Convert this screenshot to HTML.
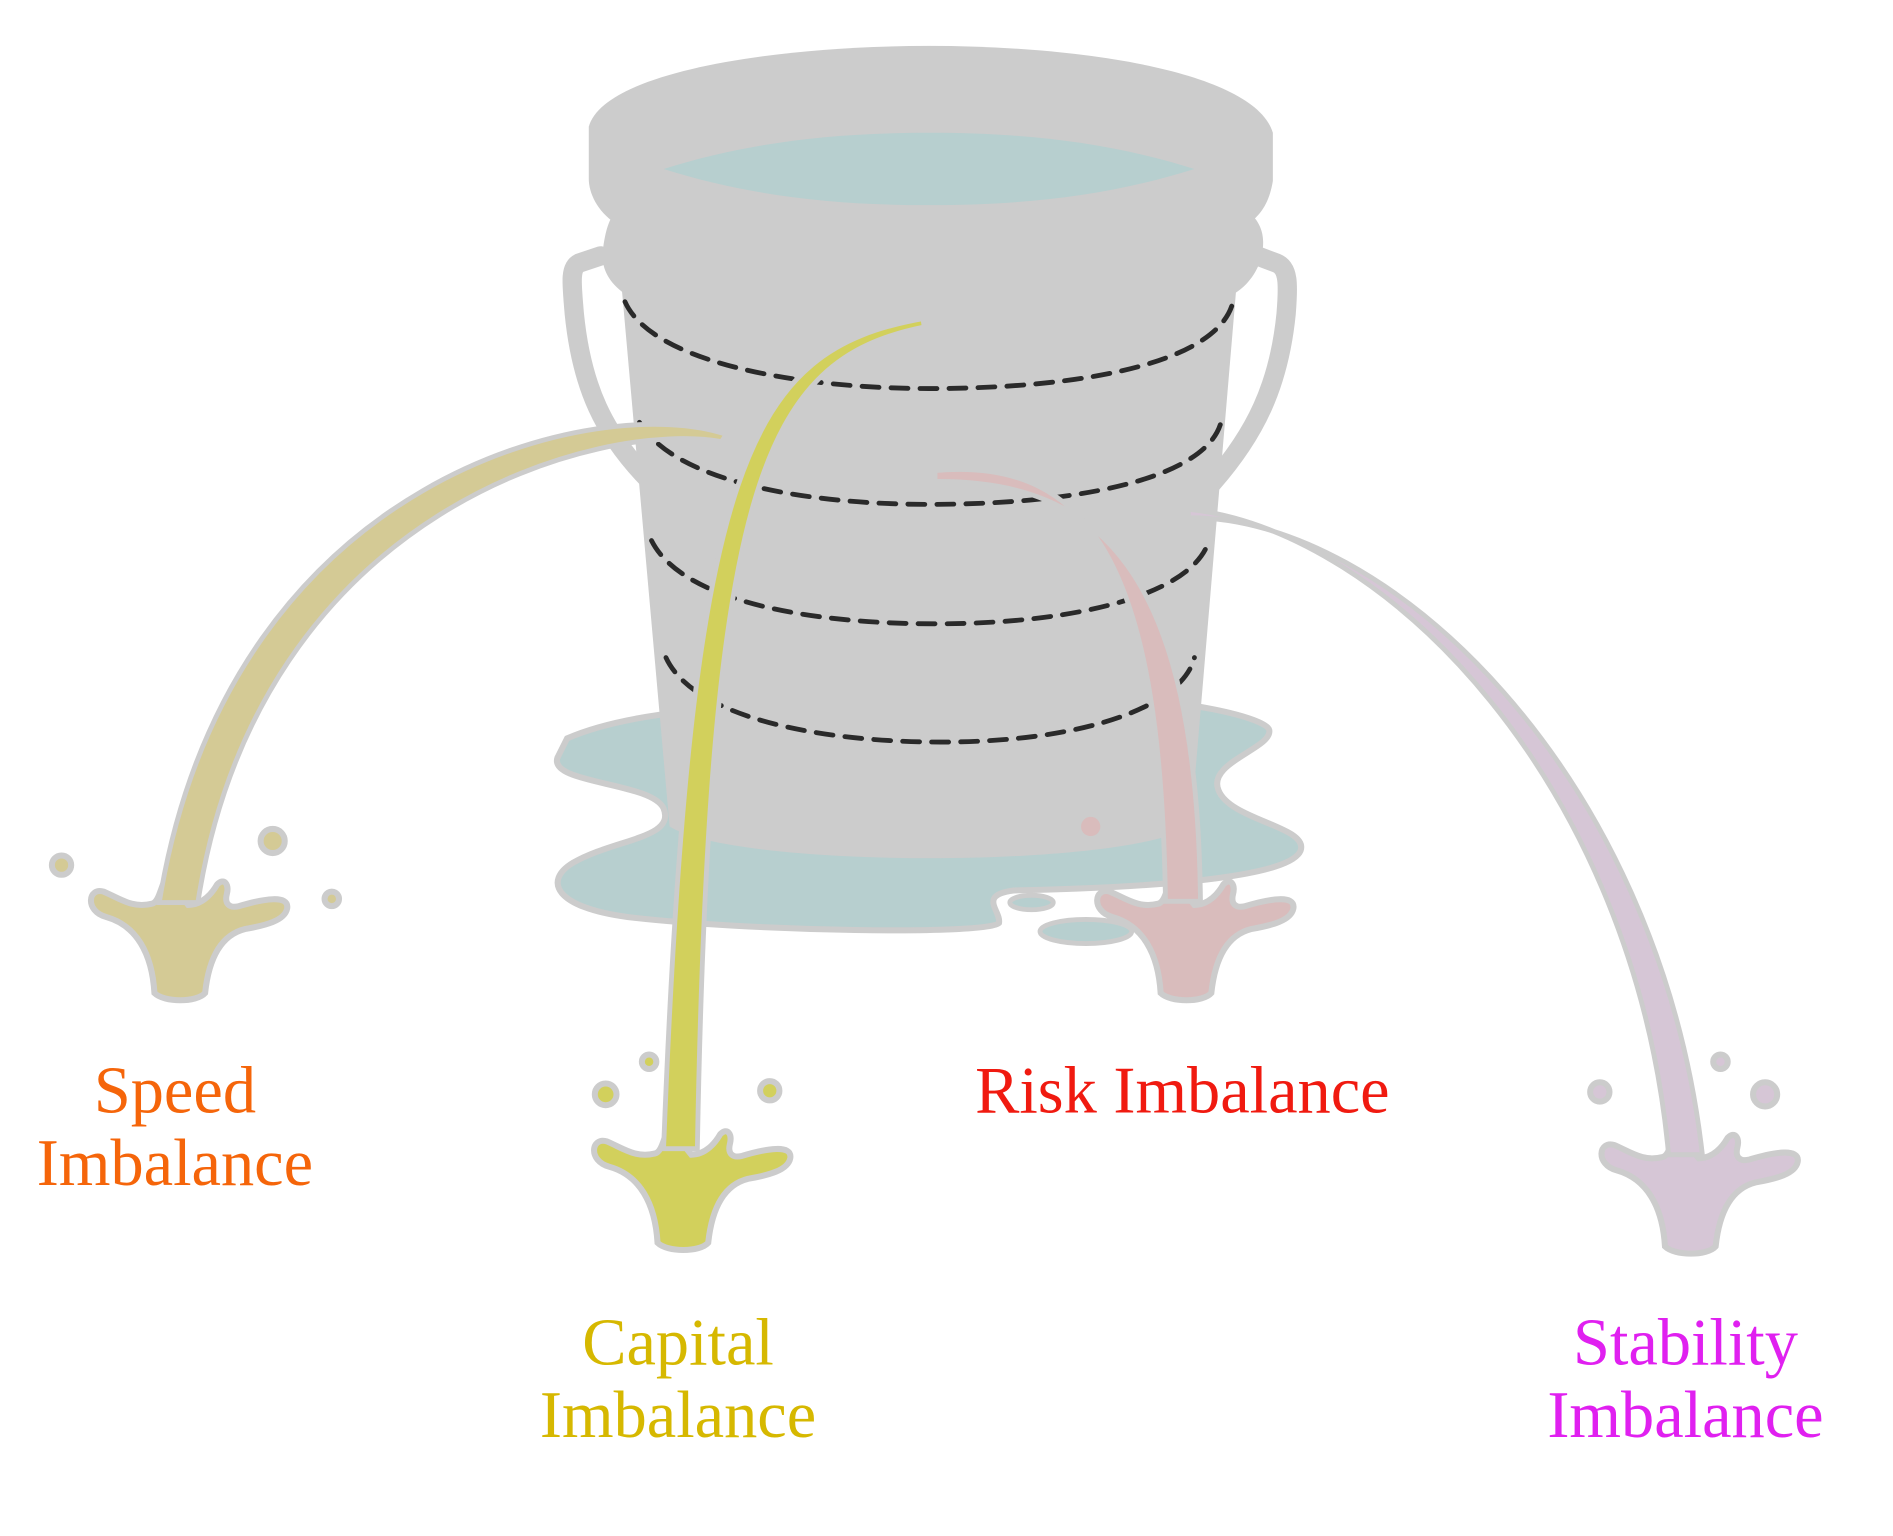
<!DOCTYPE html>
<html><head><meta charset="utf-8"><style>
html,body{margin:0;padding:0;background:#fff}
svg{display:block}
text{font-family:"Liberation Serif",serif;font-size:55px;text-anchor:middle}
</style></head><body>
<svg width="1893" height="1536" viewBox="0 0 1569 1273" xmlns="http://www.w3.org/2000/svg">
<defs>
<path id="spl" d="M -20,78 C -22,45 -35,22 -60,15 C -78,10 -75,-10 -62,-6 C -48,0 -38,8 -22,4 C -14,2 -14,-22 -6,-18 L 0,-5 L 8,5 C 20,5 28,-5 32,-12 C 38,-18 42,-12 40,-4 C 38,4 42,8 50,6 C 70,0 92,-4 90,8 C 88,18 72,22 55,25 C 35,30 25,50 22,78 C 15,86 -12,86 -20,78 Z"/>
</defs>
<path d="M 470,612 C 520,590 600,585 700,582 L 900,578 C 980,578 1050,595 1052,605 C 1055,620 1000,632 1010,655 C 1020,680 1085,685 1078,705 C 1070,725 980,735 840,738 C 810,742 830,755 828,765 C 820,775 620,772 520,760 C 460,752 450,730 475,715 C 510,695 560,695 550,670 C 540,648 455,650 462,628 Z" fill="#b7cfcf" stroke="#cccccc" stroke-width="5"/>
<ellipse cx="900" cy="772" rx="38" ry="10" fill="#b7cfcf" stroke="#ccc" stroke-width="4"/>
<ellipse cx="855" cy="748" rx="18" ry="6" fill="#b7cfcf" stroke="#ccc" stroke-width="4"/>
<path d="M 498,212 L 480,218 C 472,222 474,235 476,260 C 482,320 500,360 540,400" fill="none" stroke="#cccccc" stroke-width="16" stroke-linecap="round"/>
<path d="M 1042,212 L 1058,218 C 1068,222 1068,235 1066,260 C 1060,320 1040,360 1005,400" fill="none" stroke="#cccccc" stroke-width="16" stroke-linecap="round"/>
<path d="M 515,235 L 1025,235 L 987,685 C 930,720 610,720 555,685 Z" fill="#cccccc"/>
<path d="M 510,175 L 1035,175 C 1045,185 1050,195 1045,215 C 1040,230 1030,240 1020,245 L 520,245 C 505,235 497,222 500,205 C 502,190 505,182 510,175 Z" fill="#cccccc"/>
<path d="M 488,105 C 500,60 640,38 770,38 C 900,38 1040,60 1055,110 L 1055,150 C 1052,168 1045,178 1035,185 L 510,185 C 495,175 488,160 488,148 Z" fill="#cccccc"/>
<path d="M 550,140 C 620,118 690,110 770,110 C 850,110 920,118 990,140 C 920,162 850,170 770,170 C 690,170 620,162 550,140 Z" fill="#b7cfcf"/>
<g fill="none" stroke="#2a2a2a" stroke-width="4" stroke-dasharray="14,10" stroke-linecap="round">
<path d="M 518,250 C 540,300 660,322 770,322 C 900,322 1010,300 1022,250"/>
<path d="M 530,350 C 560,400 670,418 770,418 C 900,418 1000,395 1012,350"/>
<path d="M 540,448 C 565,498 670,517 775,517 C 900,517 990,490 1002,448"/>
<path d="M 552,545 C 575,595 680,615 780,615 C 900,615 980,585 990,545"/>
</g>
<g stroke="#cccccc" stroke-width="5">
<use href="#spl" transform="translate(148,745)" fill="#d4ca95"/>
<use href="#spl" transform="translate(565,952)" fill="#d2d05c"/>
<use href="#spl" transform="translate(982,745)" fill="#d9bcbc"/>
<use href="#spl" transform="translate(1400,955)" fill="#d6c6d6"/>
<circle cx="51" cy="717" r="8" fill="#d4ca95"/><circle cx="226" cy="697" r="10" fill="#d4ca95"/><circle cx="275" cy="745" r="6" fill="#d4ca95"/>
<circle cx="502" cy="907" r="9" fill="#d2d05c"/><circle cx="538" cy="880" r="6" fill="#d2d05c"/><circle cx="638" cy="904" r="8" fill="#d2d05c"/>
<circle cx="1326" cy="905" r="8" fill="#d6c6d6"/><circle cx="1426" cy="880" r="6" fill="#d6c6d6"/><circle cx="1463" cy="907" r="10" fill="#d6c6d6"/>
</g>
<circle cx="904" cy="685" r="8" fill="#d9bcbc"/>
<g stroke="#cccccc" stroke-width="4">
<path d="M 602,360 C 500,325 190,390 132,748 L 164,748 C 215,420 500,348 598,366 Z" fill="#d4ca95"/>
<path d="M 765,264 C 620,290 572,380 550,952 L 578,952 C 588,400 632,298 766,271 Z" fill="#d2d05c"/>
<path d="M 775,390 C 910,378 962,480 966,747 L 995,747 C 992,470 910,398 775,399 Z" fill="#d9bcbc"/>
<path d="M 985,422 C 1150,440 1355,650 1383,957 L 1411,957 C 1375,640 1150,428 985,429 Z" fill="#d6c6d6"/>
</g>
<text x="145" y="922" fill="#f5650a">Speed</text>
<text x="145" y="982" fill="#f5650a">Imbalance</text>
<text x="562" y="1131" fill="#d6b800">Capital</text>
<text x="562" y="1191" fill="#d6b800">Imbalance</text>
<text x="980" y="922" fill="#f01a10">Risk Imbalance</text>
<text x="1397" y="1131" fill="#e020f0">Stability</text>
<text x="1397" y="1191" fill="#e020f0">Imbalance</text>
</svg>
</body></html>
